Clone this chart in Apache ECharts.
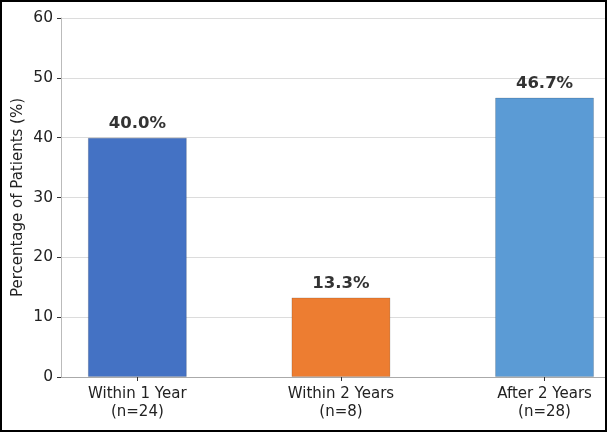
<!DOCTYPE html>
<html>
<head>
<meta charset="utf-8">
<script src="https://cdn.jsdelivr.net/npm/echarts@6/dist/echarts.min.js"></script>
<style>
  html, body { margin: 0; padding: 0; background: #fff; }
  #main { width: 607px; height: 432px; }
</style>
</head>
<body>
<div id="main"></div>
<script>
var chartDom = document.getElementById('main');
var myChart = echarts.init(chartDom);
var option;

var categories = ['Within 1 Year\n(n=24)', 'Within 2 Years\n(n=8)', 'After 2 Years\n(n=28)'];
var percentages = [40.0, 13.3, 46.7];
var colors = ['#4472C4', '#ED7D31', '#5B9BD5'];
var yTicks = [0, 10, 20, 30, 40, 50, 60];

var font = 'DejaVu Sans';

var barData = percentages.map(function (v, i) {
    return {
        value: [i, v],
        itemStyle: { color: colors[i] }
    };
});

option = {
    animation: false,
    backgroundColor: '#fff',
    textStyle: { fontFamily: font },
    grid: {
        left: 61,
        top: 18,
        right: 2,
        bottom: 55
    },
    xAxis: {
        type: 'value',
        min: -0.375,
        max: 2.297,
        axisLine: { show: true, onZero: false, lineStyle: { color: '#aaa', width: 1 } },
        axisTick: {
            show: true,
            customValues: [0, 1, 2],
            length: 4,
            lineStyle: { color: '#333' }
        },
        axisLabel: {
            customValues: [0, 1, 2],
            formatter: function (v) { return categories[Math.round(v)]; },
            color: '#222',
            fontSize: 15,
            lineHeight: 18,
            fontFamily: font,
            margin: 8
        },
        splitLine: { show: false }
    },
    yAxis: {
        type: 'value',
        min: yTicks[0],
        max: yTicks[yTicks.length - 1],
        interval: 10,
        name: 'Percentage of Patients (%)',
        nameLocation: 'middle',
        nameGap: 35,
        nameMoveOverlap: false,
        nameTextStyle: { color: '#222', fontSize: 15, fontFamily: font },
        axisLine: { show: true, onZero: false, lineStyle: { color: '#bbb' } },
        axisTick: { show: true, length: 4, lineStyle: { color: '#333' } },
        axisLabel: { color: '#222', fontSize: 15.5, fontFamily: font, margin: 8 },
        splitLine: { show: true, lineStyle: { color: '#dcdcdc', width: 1 } }
    },
    graphic: [{
        type: 'rect',
        shape: { x: 1, y: 1, width: 605, height: 430 },
        style: { fill: 'none', stroke: '#000', lineWidth: 2 },
        z: 100
    }],
    series: [{
        type: 'bar',
        barWidth: 99,
        data: barData,
        itemStyle: { borderColor: 'rgba(0,0,0,0.15)', borderWidth: 1 },
        label: {
            show: true,
            position: 'top',
            distance: 5,
            formatter: function (p) { return p.value[1].toFixed(1) + '%'; },
            fontSize: 16.5,
            fontWeight: 'bold',
            color: '#333',
            fontFamily: font
        }
    }]
};

option && myChart.setOption(option);
</script>
</body>
</html>
